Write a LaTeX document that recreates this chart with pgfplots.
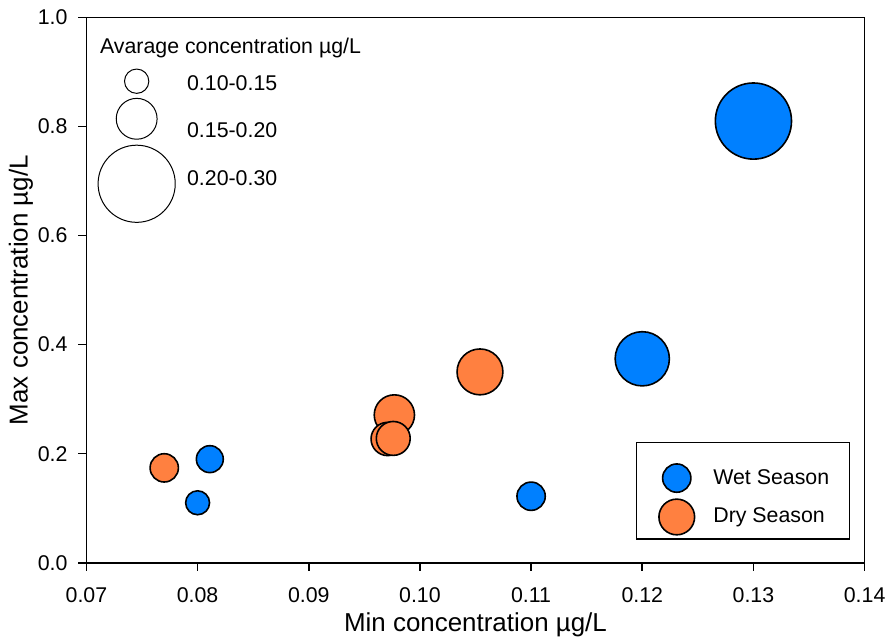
\documentclass[border=0pt]{standalone}
\usepackage{pgfplots}
\pgfplotsset{compat=1.18}
\usepackage{fontspec}
\setmainfont{Liberation Sans}
\definecolor{wetblue}{RGB}{0,128,255}
\definecolor{dryorange}{RGB}{255,128,64}
\newcommand{\smallfnt}{\fontsize{10.7}{12.8}\selectfont}
\newcommand{\largefnt}{\fontsize{13}{15.6}\selectfont}

\pgfplotstableread{
x y r
0.1300 0.810 19.1
0.1200 0.374 13.6
0.0811 0.190 6.75
0.0800 0.110 6.0
0.1100 0.122 7.1
}\wet
\pgfplotstableread{
x y r
0.0770 0.174 7.1
0.0977 0.271 10.1
0.0971 0.227 8.35
0.0976 0.228 8.5
0.1054 0.350 11.5
}\dry

\begin{document}
\begin{tikzpicture}
\path (0,0) rectangle (446pt,319pt);
\begin{axis}[
  at={(43.35pt,36.75pt)}, anchor=south west,
  scale only axis, width=390.3pt, height=273.5pt,
  xmin=0.07, xmax=0.14, ymin=0, ymax=1,
  xtick={0.07,0.08,0.09,0.10,0.11,0.12,0.13,0.14},
  ytick={0,0.2,0.4,0.6,0.8,1.0},
  tick align=outside, tick pos=left, major tick length=4pt,
  axis line style={line width=0.8pt},
  tick style={line width=0.8pt, black},
  /pgf/number format/assume math mode=true,
  ticklabel style={font=\smallfnt},
  xticklabel style={yshift=-5pt, /pgf/number format/.cd, fixed, fixed zerofill, precision=2},
  yticklabel style={xshift=-2pt, /pgf/number format/.cd, fixed, fixed zerofill, precision=1},
  scaled x ticks=false, scaled y ticks=false,
  xlabel={Min concentration µg/L},
  ylabel={Max concentration µg/L},
  label style={font=\largefnt},
  xlabel style={at={(axis description cs:0.5,-0.1135)}, anchor=center},
  ylabel style={at={(axis description cs:-0.0842,0.5)}, anchor=center},
  legend cell align=left,
  legend style={at={(rel axis cs:0.7066,0.2216)}, anchor=north west,
    draw=black, line width=0.6pt, inner xsep=10pt, inner ysep=1.65pt,
    row sep=0.8pt, column sep=8.35pt, nodes={inner sep=0pt}, font=\smallfnt},
]
\addlegendimage{legend image code/.code={\draw[black,line width=0.8pt,fill=wetblue] (0pt,0pt) circle (7.1pt); \path[draw=none,fill=none] (-10pt,-9.35pt) rectangle (10pt,16.2pt);}}
\addlegendentry{Wet Season}
\addlegendimage{legend image code/.code={\draw[black,line width=0.8pt,fill=dryorange] (0pt,0pt) circle (8.95pt); \path[draw=none,fill=none] (-10pt,-9.35pt) rectangle (10pt,9.35pt);}}
\addlegendentry{Dry Season}

\addplot[scatter, only marks, mark=*, line width=0.8pt,
  scatter/use mapped color={draw=black, fill=wetblue},
  visualization depends on={\thisrow{r}\as\rad},
  scatter/@pre marker code/.append style={/tikz/mark size=\rad},
  forget plot] table[x=x,y=y] {\wet};
\addplot[scatter, only marks, mark=*, line width=0.8pt,
  scatter/use mapped color={draw=black, fill=dryorange},
  visualization depends on={\thisrow{r}\as\rad},
  scatter/@pre marker code/.append style={/tikz/mark size=\rad},
  forget plot] table[x=x,y=y] {\dry};

\node[anchor=west, inner sep=0pt, font=\smallfnt] at (rel axis cs:0.017,0.9436) {Avarage concentration µg/L};
\end{axis}

\begin{axis}[
  at={(43.35pt,36.75pt)}, anchor=south west,
  scale only axis, width=390.3pt, height=273.5pt,
  xmin=0, xmax=1, ymin=0, ymax=1, hide axis,
  legend cell align=left,
  legend style={at={(rel axis cs:0.0128,0.907)}, anchor=north west,
    draw=none, fill=none, inner sep=0pt,
    row sep=2pt, column sep=5.3pt, nodes={inner sep=0pt}, font=\smallfnt},
]
\addlegendimage{legend image code/.code={\draw[black,line width=0.5pt,fill=white] (0pt,0pt) circle (6.1pt); \path[draw=none,fill=none] (-20pt,0pt) (20pt,0pt);}}
\addlegendentry[yshift=-1.5pt]{0.10-0.15}
\addlegendimage{legend image code/.code={\draw[black,line width=0.5pt,fill=white] (0pt,0pt) circle (10.25pt); \path[draw=none,fill=none] (-20pt,0pt) (20pt,0pt);}}
\addlegendentry[yshift=-6.5pt]{0.15-0.20}
\addlegendimage{legend image code/.code={\draw[black,line width=0.5pt,fill=white] (0pt,0pt) circle (19.35pt); \path[draw=none,fill=none] (-20pt,0pt) (20pt,0pt);}}
\addlegendentry[yshift=2pt]{0.20-0.30}
\end{axis}
\end{tikzpicture}
\end{document}
